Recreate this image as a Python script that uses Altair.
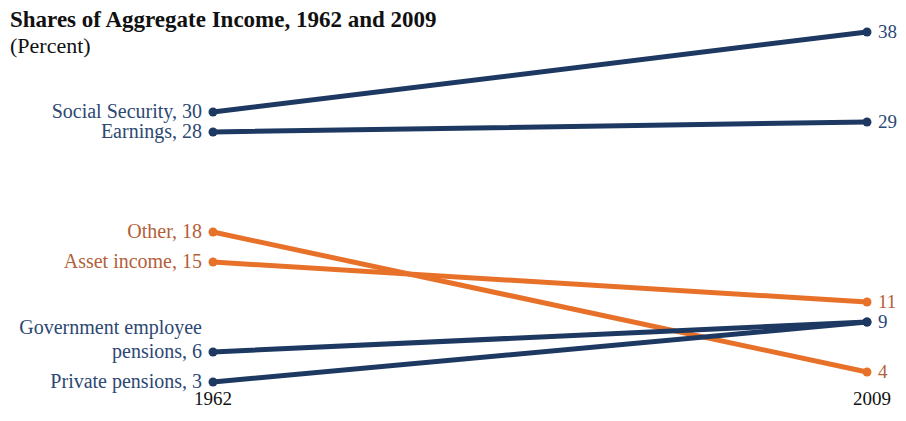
import altair as alt
import pandas as pd

series = ["Social Security", "Earnings", "Other", "Asset income",
          "Government employee pensions", "Private pensions"]
v1962 = [30, 28, 18, 15, 6, 3]
v2009 = [38, 29, 4, 11, 9, 9]
groups = ["navy", "navy", "orange", "orange", "navy", "navy"]
left_labels = ["Social Security, 30", "Earnings, 28", "Other, 18",
               "Asset income, 15", "pensions, 6", "Private pensions, 3"]
right_labels = ["38", "29", "4", "11", "9", ""]
years = [1962, 2009]

rows = []
for s, a, b, g, ll, rl in zip(series, v1962, v2009, groups, left_labels, right_labels):
    rows.append({"series": s, "year": years[0], "value": a, "group": g, "label": ll})
    rows.append({"series": s, "year": years[1], "value": b, "group": g, "label": rl})
df = pd.DataFrame(rows)
extra = pd.DataFrame([{"year": 1962, "value": 6, "group": "navy", "label": "Government employee"}])
yr = pd.DataFrame({"year": years, "value": [0, 0], "label": [str(y) for y in years]})

FONT = "Liberation Serif"
x = alt.X("year:Q", scale=alt.Scale(domain=[1962, 2009], range=[205, 859]), axis=None)
y = alt.Y("value:Q", scale=alt.Scale(domain=[0, 40], range=[404, 4]), axis=None)
line_color = alt.Color("group:N", scale=alt.Scale(domain=["navy", "orange"], range=["#1D3962", "#E8712A"]), legend=None)
text_color = alt.Color("group:N", scale=alt.Scale(domain=["navy", "orange"], range=["#2C4873", "#B35F3A"]), legend=None)

base = alt.Chart(df)
lines = base.mark_line(strokeWidth=5, strokeCap="round").encode(x=x, y=y, color=line_color, detail="series:N")
pts = base.mark_circle(size=80, opacity=1).encode(x=x, y=y, color=line_color)
marks = alt.layer(lines, pts)

left = base.transform_filter("datum.year == 1962").mark_text(
    align="right", baseline="middle", dx=-11, font=FONT, fontSize=20).encode(
    x=x, y=y, text="label:N", color=text_color)
right = base.transform_filter("datum.year == 2009 && datum.label != ''").mark_text(
    align="left", baseline="middle", dx=11, font=FONT, fontSize=19).encode(
    x=x, y=y, text="label:N", color=text_color)
extra_t = alt.Chart(extra).mark_text(
    align="right", baseline="middle", dx=-11, dy=-24, font=FONT, fontSize=20).encode(
    x=x, y=y, text="label:N", color=text_color)
texts = alt.layer(left, right, extra_t)

y1962 = alt.Chart(yr).transform_filter("datum.year == 1962").mark_text(
    align="center", baseline="alphabetic", dy=-7, font=FONT, fontSize=19, color="#111111").encode(
    x=x, y=y, text="label:N")
y2009 = alt.Chart(yr).transform_filter("datum.year == 2009").mark_text(
    align="center", baseline="alphabetic", dy=-7, dx=5, font=FONT, fontSize=19, color="#111111").encode(
    x=x, y=y, text="label:N")
title = alt.Chart(pd.DataFrame({"t": ["Shares of Aggregate Income, 1962 and 2009"]})).mark_text(
    align="left", baseline="alphabetic", font=FONT, fontSize=23, fontWeight="bold", color="#111111").encode(
    x=alt.value(2), y=alt.value(19), text="t:N")
sub = alt.Chart(pd.DataFrame({"t": ["(Percent)"]})).mark_text(
    align="left", baseline="alphabetic", font=FONT, fontSize=22, color="#111111").encode(
    x=alt.value(2), y=alt.value(45), text="t:N")

chart = alt.layer(marks, texts, y1962, y2009, title, sub).resolve_scale(color="independent").properties(
    width=890, height=403, padding=0, autosize="none"
).configure_view(stroke=None)

chart.save("out.html", embed_options={"renderer": "svg", "actions": False})
